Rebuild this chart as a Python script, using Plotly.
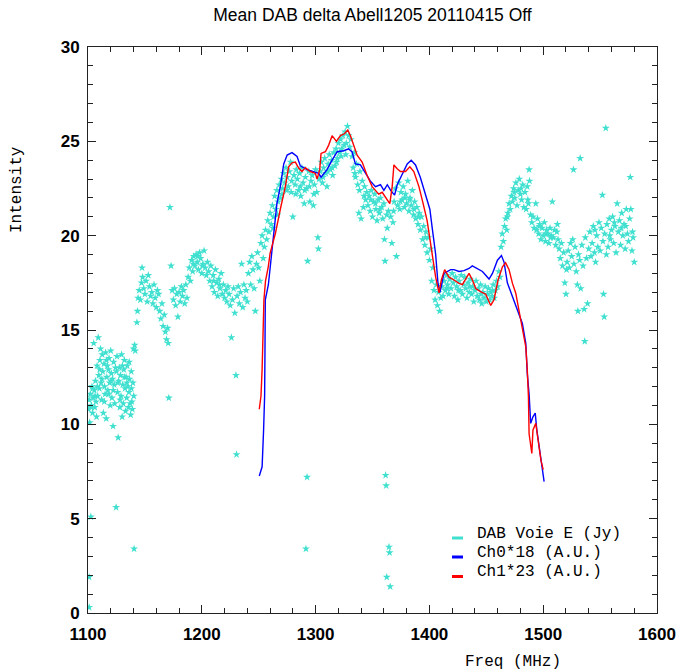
import plotly.graph_objects as go

# ---------------- data ----------------
# DAB Voie E (Jy): (freq MHz, intensity) pairs, grouped by band
dab_1100_1142 = [
    (1100.5, 10.8), (1101, 11.3), (1101.5, 10.1), (1102, 11.6), (1102.5, 5.1), (1101, 1.9),
    (1101, 0.3), (1103, 11.0), (1103.5, 12.0), (1104, 10.6), (1104.5, 11.4), (1105, 14.3),
    (1105.5, 11.8), (1106, 10.9), (1106.5, 12.3), (1107, 11.2), (1107.5, 10.4), (1108, 13.1),
    (1108.5, 11.5), (1109, 14.6), (1109.5, 12.6), (1110, 11.9), (1110.5, 13.4), (1111, 14.0),
    (1111.5, 12.2), (1112, 11.3), (1112.5, 13.7), (1113, 12.8), (1113.5, 10.6), (1114, 13.2),
    (1114.5, 12.0), (1115, 11.6), (1115.5, 13.8), (1116, 10.3), (1116.5, 12.5), (1117, 13.1),
    (1117.5, 11.8), (1118, 12.9), (1118.5, 13.5), (1119, 12.2), (1119.5, 11.0), (1120, 13.9),
    (1120.5, 12.7), (1121, 11.4), (1121.5, 12.4), (1122, 9.9), (1122.5, 13.3), (1123, 12.1),
    (1123.5, 11.1), (1124.7, 5.6), (1125, 12.8), (1125.5, 13.6), (1126, 11.7), (1126.5, 9.3),
    (1127, 12.3), (1127.5, 13.0), (1128, 10.9), (1128.5, 12.6), (1129, 11.5), (1129.5, 13.7),
    (1130, 10.4), (1130.5, 12.1), (1131, 11.1), (1131.5, 12.9), (1132, 13.4), (1132.5, 11.9),
    (1133, 10.7), (1133.5, 12.5), (1134, 11.4), (1134.5, 13.1), (1135, 12.0), (1135.5, 10.9),
    (1136, 11.7), (1136.5, 12.4), (1137, 11.1), (1137.5, 10.5), (1138, 12.8), (1138.5, 11.2),
    (1139, 10.8), (1139.5, 12.2), (1140, 14.0), (1140.5, 3.4), (1141, 14.2), (1141.5, 13.9),
    (1102.8, 10.9), (1104.2, 11.9), (1106.2, 11.5), (1108.2, 12.0), (1110.3, 12.9),
    (1112.2, 12.4), (1114.3, 11.2), (1116.2, 13.4), (1118.2, 11.6), (1120.2, 12.3),
    (1122.2, 11.8), (1124.2, 13.0), (1126.2, 12.2), (1128.2, 11.3), (1130.2, 13.1),
    (1132.2, 12.5), (1134.2, 12.2), (1136.2, 13.3), (1138.2, 11.9), (1140.2, 11.5),
]
dab_1143_1172 = [
    (1143, 15.4), (1143.5, 16.0), (1144, 16.7), (1145, 17.1), (1146, 16.6), (1147, 17.5),
    (1147.5, 18.3), (1148, 17.8), (1149, 17.2), (1150, 16.9), (1151, 17.6), (1152, 16.5),
    (1153, 17.9), (1154, 17.3), (1155, 16.8), (1156, 17.0), (1157, 16.4), (1158, 17.4),
    (1159, 16.7), (1160, 16.2), (1161, 17.1), (1162, 16.9), (1163, 16.0), (1164, 15.6),
    (1165, 16.4), (1166, 15.2), (1167, 15.8), (1168, 14.9), (1169, 14.5), (1170, 15.1),
    (1170.5, 14.3), (1171, 11.4), (1172, 21.5),
]
dab_1173_1205 = [
    (1173, 18.4), (1174, 17.1), (1175, 16.6), (1176, 17.2), (1177, 16.3), (1178, 16.9),
    (1179, 15.7), (1180, 17.0), (1181, 16.5), (1182, 17.3), (1183, 16.8), (1184, 17.1),
    (1185, 16.4), (1186, 17.4), (1187, 16.7), (1188, 17.8), (1189, 18.3), (1190, 17.6),
    (1191, 18.7), (1192, 18.1), (1193, 18.9), (1194, 18.4), (1195, 19.0), (1196, 18.6),
    (1197, 18.2), (1198, 19.1), (1199, 18.8), (1200, 18.0), (1201, 18.5), (1202, 19.2),
    (1203, 18.3), (1204, 17.9), (1205, 18.6),
    (1192.5, 18.5), (1196.5, 18.9), (1200.5, 18.4),
]
dab_1206_1250 = [
    (1206, 18.1), (1207, 17.6), (1208, 18.4), (1209, 17.3), (1210, 17.9), (1211, 17.0),
    (1212, 18.2), (1213, 17.5), (1214, 16.8), (1215, 17.7), (1216, 17.2), (1217, 18.0),
    (1218, 16.9), (1219, 17.4), (1220, 16.7), (1221, 17.1), (1222, 16.5), (1223, 17.3),
    (1224, 16.9), (1225, 16.3), (1226, 14.6), (1227, 16.6), (1228, 17.2), (1229, 15.9),
    (1230, 12.6), (1230.5, 8.4), (1231, 16.8), (1232, 17.3), (1233, 16.4), (1234, 17.0),
    (1235, 18.5), (1236, 16.2), (1237, 17.4), (1238, 16.7), (1239, 17.1), (1240, 16.5),
    (1241, 18.0), (1242, 18.6), (1243, 17.4), (1244, 18.9), (1245, 18.2), (1246, 17.2),
    (1247, 16.0), (1248, 18.5), (1249, 19.1), (1250, 18.3),
    (1210.5, 17.6), (1215.5, 17.4),
]
dab_1251_1303 = [
    (1251, 17.6), (1252, 19.6), (1253, 20.0), (1254, 18.8), (1255, 19.4), (1256, 20.3),
    (1257, 19.8), (1258, 20.8), (1259, 20.2), (1260, 21.2), (1261, 20.6), (1262, 21.6),
    (1263, 21.0), (1264, 22.1), (1265, 21.4), (1266, 22.4), (1267, 21.8), (1268, 22.7),
    (1269, 22.0), (1270, 23.0), (1271, 22.5), (1272, 23.3), (1273, 22.8), (1274, 23.6),
    (1275, 23.1), (1276, 22.6), (1277, 23.4), (1278, 23.9), (1279, 22.9), (1280, 21.0),
    (1281, 23.2), (1282, 22.7), (1283, 23.5), (1284, 23.0), (1285, 22.4), (1286, 23.3),
    (1287, 22.1), (1288, 23.6), (1289, 22.8), (1290, 21.7), (1291, 23.1), (1291.5, 3.4),
    (1292, 22.5), (1292.5, 7.2), (1293, 18.65), (1294, 23.4), (1295, 21.8), (1296, 22.9),
    (1297, 23.2), (1298, 21.6), (1299, 22.7), (1300, 23.5), (1301, 22.3), (1302, 19.9),
    (1302.5, 19.3), (1303, 23.0),
    (1262.5, 20.4), (1266.5, 21.1), (1270.5, 22.2), (1274.5, 22.4), (1278.5, 22.3),
    (1282.5, 22.2), (1286.5, 22.6), (1290.5, 22.4), (1294.5, 22.6), (1298.5, 22.2),
]
dab_1304_1345 = [
    (1304, 23.4), (1305, 23.9), (1306, 22.8), (1307, 23.6), (1308, 24.1), (1309, 23.3),
    (1310, 22.6), (1311, 23.8), (1312, 24.3), (1313, 23.5), (1314, 24.0), (1315, 23.2),
    (1316, 24.4), (1317, 23.7), (1318, 24.6), (1319, 24.1), (1320, 24.9), (1321, 24.4),
    (1322, 25.1), (1323, 24.6), (1324, 25.3), (1325, 24.8), (1326, 25.5), (1327, 24.9),
    (1328, 25.8), (1329, 25.3), (1330, 24.7), (1331, 25.1), (1332, 24.2), (1333, 23.6),
    (1334, 24.4), (1335, 23.1), (1336, 23.8), (1337, 22.7), (1338, 21.2), (1339, 23.4),
    (1340, 20.9), (1341, 22.9), (1342, 21.5), (1343, 22.6), (1344, 21.9), (1345, 22.3),
    (1306.5, 23.1), (1310.5, 23.4), (1314.5, 23.6), (1318.5, 23.9), (1322.5, 24.2),
    (1326.5, 24.3), (1334.5, 23.3), (1338.5, 22.4), (1342.5, 22.1),
]
dab_1346_1392 = [
    (1346, 21.6), (1347, 22.1), (1348, 21.3), (1349, 22.4), (1350, 21.0), (1351, 21.8),
    (1352, 22.2), (1353, 21.4), (1354, 20.8), (1355, 21.9), (1356, 21.2), (1357, 22.0),
    (1358, 21.5), (1359, 20.9), (1360, 21.7), (1360.5, 19.8), (1361, 18.65), (1361.5, 7.3),
    (1362, 6.75), (1362.5, 1.9), (1363, 20.4), (1364, 21.3), (1364.5, 3.5), (1365, 3.2),
    (1365.5, 1.4), (1366, 21.0), (1367, 19.6), (1368, 20.7), (1369, 21.8), (1370, 22.5),
    (1371, 18.9), (1372, 21.6), (1373, 22.8), (1374, 21.4), (1375, 22.3), (1376, 21.9),
    (1377, 22.6), (1378, 21.5), (1379, 22.2), (1380, 21.7), (1381, 22.9), (1382, 21.3),
    (1383, 22.0), (1384, 21.6), (1385, 22.4), (1386, 21.1), (1387, 21.8), (1388, 20.9),
    (1389, 21.5), (1390, 20.6), (1391, 21.2), (1392, 20.3),
    (1348.5, 21.9), (1352.5, 21.7), (1356.5, 21.4), (1362.5, 21.1), (1368.5, 21.3),
    (1374.5, 21.8), (1378.5, 22.0), (1382.5, 21.9), (1386.5, 21.4), (1390.5, 21.0),
]
dab_1393_1462 = [
    (1393, 21.0), (1394, 19.8), (1395, 20.5), (1396, 19.5), (1397, 20.2), (1398, 19.1),
    (1399, 19.9), (1400, 18.7), (1401, 19.3), (1402, 17.6), (1403, 18.3), (1404, 17.1),
    (1405, 16.6), (1406, 17.4), (1407, 16.3), (1408, 17.0), (1409, 16.0), (1410, 16.7),
    (1411, 17.3), (1412, 16.8), (1413, 17.6), (1414, 17.1), (1415, 17.9), (1416, 17.4),
    (1417, 16.9), (1418, 17.7), (1419, 17.2), (1420, 18.0), (1421, 17.5), (1422, 16.8),
    (1423, 17.8), (1424, 17.3), (1425, 16.6), (1426, 17.6), (1427, 17.1), (1428, 17.9),
    (1429, 16.9), (1430, 17.4), (1431, 17.8), (1432, 17.2), (1433, 16.7), (1434, 17.5),
    (1435, 17.0), (1436, 17.7), (1437, 16.9), (1438, 17.3), (1439, 16.5), (1440, 17.1),
    (1441, 17.6), (1442, 16.8), (1443, 17.2), (1444, 16.6), (1445, 17.4), (1446, 16.4),
    (1447, 17.0), (1448, 16.7), (1449, 17.3), (1450, 16.5), (1451, 16.9), (1452, 17.2),
    (1453, 16.6), (1454, 17.0), (1455, 16.8), (1456, 17.4), (1457, 16.7), (1458, 17.1),
    (1459, 17.6), (1460, 17.3), (1461, 18.1), (1462, 17.8),
    (1396.5, 19.9), (1415.5, 17.2), (1425.5, 17.1), (1435.5, 17.3), (1445.5, 16.9),
    (1455.5, 17.1),
]
dab_1463_1520 = [
    (1463, 19.4), (1464, 20.1), (1465, 19.7), (1466, 20.5), (1467, 20.9), (1468, 20.3),
    (1469, 21.2), (1470, 21.7), (1471, 21.4), (1472, 22.1), (1473, 21.8), (1474, 22.5),
    (1475, 22.0), (1476, 22.8), (1477, 21.6), (1478, 22.4), (1479, 23.0), (1480, 22.2),
    (1481, 21.9), (1482, 22.7), (1483, 21.5), (1484, 22.3), (1485, 21.4), (1486, 22.6),
    (1487, 21.7), (1487.6, 23.5), (1488, 22.9), (1489, 21.1), (1490, 20.7), (1491, 21.0),
    (1492, 20.4), (1493.5, 21.7), (1494, 20.3), (1495, 20.9), (1496, 20.1), (1497, 20.6),
    (1498, 19.8), (1499, 20.4), (1500, 20.0), (1501, 20.7), (1502, 19.7), (1503, 20.3),
    (1504, 20.1), (1505, 19.6), (1506, 20.4), (1507, 20.0), (1508, 21.8), (1509, 19.9),
    (1510, 20.3), (1511, 19.5), (1512, 20.2), (1513, 19.8), (1514, 19.3), (1515, 18.8),
    (1516, 19.6), (1517, 18.4), (1518, 19.1), (1519, 17.5), (1520, 16.9), (1520.5, 18.2),
    (1468.5, 21.0), (1474.5, 22.3), (1480.5, 22.5), (1486.5, 21.9), (1496.5, 20.5),
    (1502.5, 20.1), (1506.5, 19.9), (1512.5, 20.6),
]
dab_1521_1580 = [
    (1521, 18.6), (1522, 19.2), (1523, 18.3), (1524, 19.6), (1525, 18.9), (1526, 19.8),
    (1526.6, 23.5), (1527, 18.5), (1528, 19.4), (1529, 18.1), (1530, 17.4), (1530.5, 16.0),
    (1531, 19.0), (1532, 18.7), (1532.5, 24.1), (1533, 17.2), (1534, 19.5), (1535, 18.4),
    (1536, 16.1), (1536.5, 14.4), (1537, 19.9), (1538, 18.8), (1539, 16.4), (1540, 19.3),
    (1541, 20.2), (1542, 18.9), (1543, 19.6), (1544, 20.5), (1545, 19.1), (1546, 18.6),
    (1547, 20.0), (1548, 19.4), (1549, 20.7), (1550, 19.2), (1551, 20.4), (1552, 22.15),
    (1552.5, 19.7), (1553, 16.9), (1553.6, 15.7), (1554, 20.1), (1555, 25.7), (1555.5, 19.0),
    (1556, 20.6), (1557, 19.4), (1558, 20.9), (1559, 19.8), (1560, 20.3), (1561, 21.0),
    (1562, 19.6), (1563, 20.5), (1564, 19.1), (1565, 21.7), (1566, 20.2), (1567, 20.8),
    (1568, 19.5), (1569, 21.2), (1570, 20.0), (1571, 20.6), (1572, 19.3), (1573, 21.4),
    (1574, 20.1), (1575, 19.7), (1576, 20.9), (1576.5, 23.1), (1577, 21.4), (1578, 19.2),
    (1579, 19.9), (1580, 18.6),
    (1545.5, 20.3), (1558.5, 20.0), (1562.5, 20.7), (1568.5, 20.4), (1572.5, 20.5),
    (1578.5, 20.2),
]

# Ch0*18 (A.U.)
ch0_freq = [1250.5, 1253, 1254.3, 1255.2, 1255.5, 1255.8, 1258.5, 1261.7, 1266, 1269, 1272,
            1275, 1279.3, 1283.7, 1286.6, 1292.5, 1298, 1302.7, 1304.8, 1310, 1314.5, 1319,
            1324.7, 1329, 1332, 1335, 1339.4, 1343.8, 1348, 1352.6, 1357, 1360, 1363, 1366,
            1369.4, 1371.7, 1376, 1380.5, 1384, 1387.8, 1392, 1396.7, 1400.4, 1402.5, 1405.5,
            1407.5, 1409.3, 1412.8, 1418.7, 1421.6, 1426, 1430.4, 1434.8, 1437.7, 1442,
            1446.6, 1449.5, 1452.4, 1455.4, 1459.8, 1463.3, 1465.6, 1468.5, 1473, 1477.3,
            1481.7, 1484.7, 1486, 1487.6, 1489, 1491, 1493, 1494.4, 1496.4, 1498.5, 1500.8]
ch0_int = [7.26, 7.75, 9.7, 11.5, 13.8, 16.6, 17.4, 19.2, 21.7, 22.6, 23.8,
           24.27, 24.4, 24.2, 23.7, 23.5, 23.4, 23.3, 23.1, 23.5, 24.0, 24.45,
           24.5, 24.6, 24.45, 23.8, 23.75, 23.3, 22.9, 22.6, 22.7, 22.4, 22.7, 22.4,
           22.15, 22.7, 23.2, 23.8, 24.0, 23.75, 23.1, 22.1, 21.4, 20.4, 19.0,
           17.5, 17.0, 18.0, 18.2, 18.2, 18.1, 18.15, 18.26, 18.4, 18.27,
           18.1, 17.9, 17.7, 18.0, 18.7, 18.95, 18.6, 17.5, 16.8, 16.06,
           15.35, 14.3, 12.7, 11.6, 10.05, 10.4, 10.6, 9.7, 8.8, 7.9, 6.96]

# Ch1*23 (A.U.)
ch1_freq = [1250.5, 1252, 1253, 1253.8, 1254.6, 1256, 1258.4, 1260, 1264.6, 1269, 1273.4,
            1276.3, 1279.3, 1282.2, 1285, 1288, 1291, 1295.4, 1299.8, 1301.3, 1303.6, 1304.8,
            1308.6, 1311.5, 1314.5, 1318.3, 1321.8, 1325.3, 1328.3, 1330.6, 1333.5, 1336.5,
            1340.9, 1345.2, 1349.7, 1352.6, 1355.5, 1358.5, 1361.4, 1365.2, 1367.3, 1368.8,
            1371.7, 1374.6, 1379, 1382.8, 1386.3, 1390.8, 1394.5, 1398, 1401, 1404, 1405.5,
            1408.4, 1410.5, 1413.4, 1417.2, 1421.6, 1426, 1429, 1431.9, 1434.8, 1437.8,
            1440.7, 1445, 1449.5, 1452.4, 1453.9, 1456.8, 1460.3, 1464.2, 1467, 1470, 1473,
            1475.9, 1478.8, 1481.7, 1484.7, 1486, 1487, 1487.6, 1488.4, 1490, 1491, 1493.5,
            1495.5, 1498, 1500]
ch1_int = [10.8, 11.5, 12.9, 15.0, 16.6, 17.6, 18.35, 19.06, 20.1, 21.4, 22.6,
           23.65, 23.86, 23.9, 23.6, 23.4, 23.6, 23.4, 23.3, 23.0, 23.5, 24.36,
           24.45, 24.8, 25.3, 25.0, 25.3, 25.4, 25.6, 25.3, 24.8, 24.27,
           23.9, 23.2, 22.6, 22.4, 22.2, 22.3, 22.06, 21.7, 22.6, 23.75,
           23.55, 23.4, 23.4, 23.65, 23.4, 22.6, 21.7, 20.8, 19.6, 18.2, 17.8,
           16.97, 17.65, 18.2, 17.8, 17.65, 17.47, 17.4, 17.7, 18.0, 17.65,
           17.2, 17.03, 16.9, 16.5, 16.3, 16.6, 17.65, 18.35, 18.56, 18.2, 17.47,
           16.95, 16.06, 15.17, 14.1, 12.9, 11.5, 9.5, 9.17, 8.46, 9.7, 10.05,
           9.17, 8.1, 7.6]

legend_labels = ["DAB Voie E (Jy)", "Ch0*18 (A.U.)", "Ch1*23 (A.U.)"]
title_text = "Mean DAB delta Abell1205 20110415 Off"

# ---------------- figure ----------------
dab_all = (dab_1100_1142 + dab_1143_1172 + dab_1173_1205 + dab_1206_1250 + dab_1251_1303
           + dab_1304_1345 + dab_1346_1392 + dab_1393_1462 + dab_1463_1520 + dab_1521_1580)
dab_freq = [p[0] for p in dab_all]
dab_int = [p[1] for p in dab_all]

CYAN = "#40E0D0"
BLUE = "#0000FF"
RED = "#FF0000"

fig = go.Figure()
fig.add_trace(go.Scatter(x=dab_freq, y=dab_int, mode="markers",
                         marker=dict(symbol="star", size=6, color=CYAN, line=dict(width=0)),
                         name=legend_labels[0], showlegend=False))
fig.add_trace(go.Scatter(x=ch0_freq, y=ch0_int, mode="lines", line=dict(color=BLUE, width=1.4),
                         name=legend_labels[1], showlegend=False))
fig.add_trace(go.Scatter(x=ch1_freq, y=ch1_int, mode="lines", line=dict(color=RED, width=1.4),
                         name=legend_labels[2], showlegend=False))

W, H = 677, 672
L, R, T, B = 88, 20, 47, 59
pw, ph = W - L - R, H - T - B


def px_x(px):
    return (px - L) / pw


def px_y(py):
    return (H - B - py) / ph


mono = "Liberation Mono, Courier New, monospace"
annotations = [
    dict(text="Intensity", x=px_x(17), y=px_y(190), xref="paper", yref="paper",
         textangle=-90, showarrow=False, font=dict(family=mono, size=16, color="black"),
         xanchor="center", yanchor="middle"),
    dict(text="Freq (MHz)", x=px_x(513), y=px_y(662), xref="paper", yref="paper",
         showarrow=False, font=dict(family=mono, size=16, color="black"),
         xanchor="center", yanchor="middle"),
]
shapes = []
leg_text_y = [534, 553, 572]
leg_sym_y = [538, 557, 576.5]
for lab, col, ty, sy in zip(legend_labels, [CYAN, BLUE, RED], leg_text_y, leg_sym_y):
    annotations.append(dict(text=lab, x=px_x(475), y=px_y(ty), xref="paper", yref="paper",
                            showarrow=False, xanchor="left", yanchor="middle",
                            font=dict(family=mono, size=16, color="black")))
    shapes.append(dict(type="line", xref="paper", yref="paper", x0=px_x(452), x1=px_x(463),
                       y0=px_y(sy), y1=px_y(sy), line=dict(color=col, width=3)))

axis_common = dict(
    showline=True, linecolor="#222222", linewidth=1, mirror="allticks",
    ticks="inside", ticklen=8, tickwidth=1, tickcolor="#222222",
    showgrid=False, zeroline=False, automargin=False,
    tickfont=dict(family="Liberation Sans, Arial, sans-serif", size=17, color="black", weight="bold"),
)

fig.update_layout(
    width=W, height=H,
    margin=dict(l=L, r=R, t=T, b=B, pad=0, autoexpand=False),
    paper_bgcolor="white", plot_bgcolor="white",
    showlegend=False,
    title=dict(text=title_text, x=(L + pw / 2) / W, xanchor="center", y=1 - 15 / H, yanchor="middle",
               yref="container", xref="container", automargin=False,
               font=dict(family="Liberation Sans, Arial, sans-serif", size=17.5, color="black")),
    xaxis=dict(range=[1100, 1600], dtick=100, tick0=1100,
               minor=dict(dtick=20, ticks="inside", ticklen=5, tickcolor="#222222"),
               ticklabelstandoff=6, **axis_common),
    yaxis=dict(range=[0, 30], dtick=5, tick0=0,
               minor=dict(dtick=1, ticks="inside", ticklen=5, tickcolor="#222222"),
               ticklabelstandoff=4, **axis_common),
    annotations=annotations,
    shapes=shapes,
)

fig.write_html("out.html")
